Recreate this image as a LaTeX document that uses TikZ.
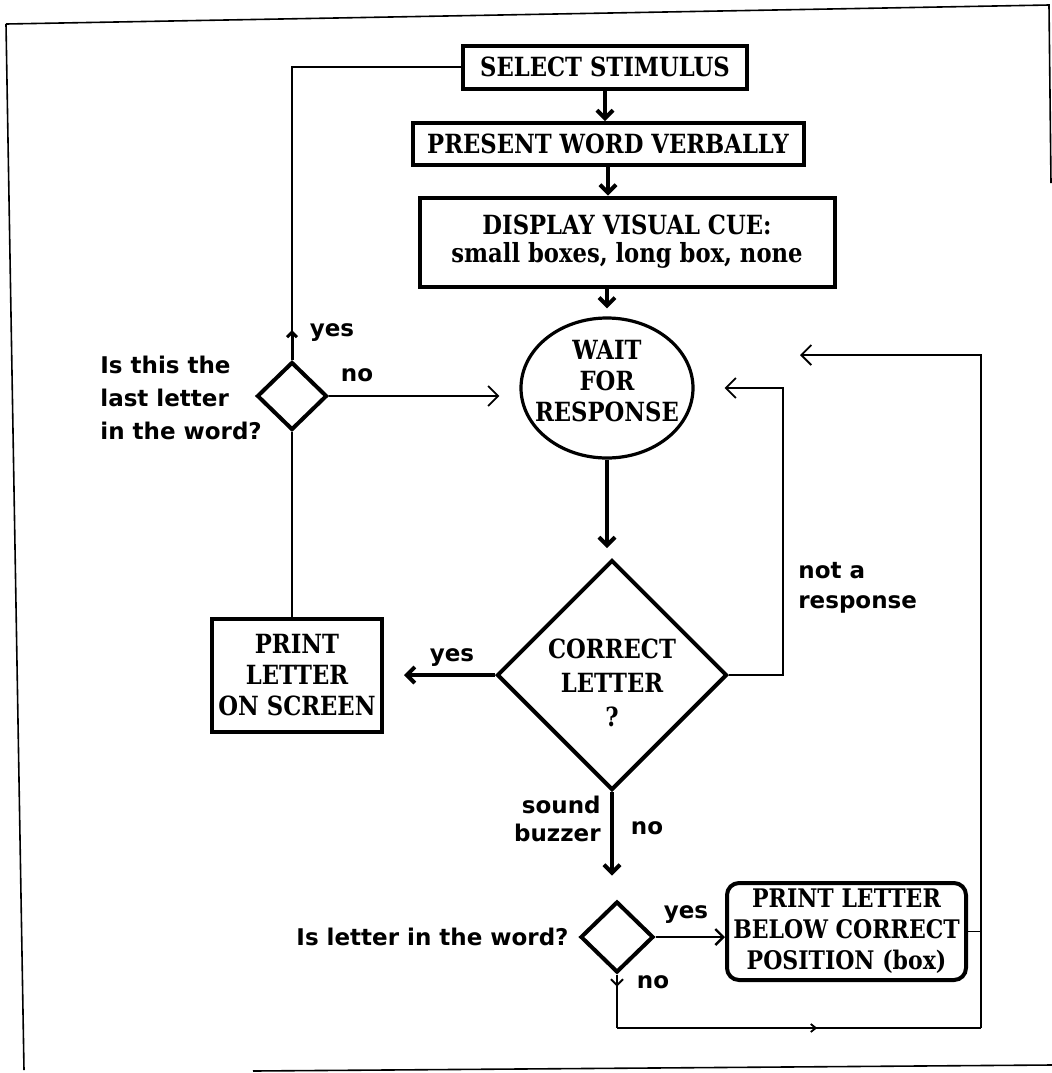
\documentclass[tikz,border=0pt]{standalone}
\usepackage{fontspec}
\setmainfont{DejaVu Serif}[FakeStretch=0.86]
\newfontfamily\lblfont{DejaVu Sans}
\usetikzlibrary{shapes.geometric,arrows.meta,decorations.markings}

\begin{document}
\begin{tikzpicture}[x=0.5pt,y=-0.5pt,
  boxtext/.style={font=\bfseries\fontsize{13.2}{15.5}\selectfont, align=center},
  stepbox/.style={draw, line width=2pt, rectangle, inner sep=0pt, boxtext},
  decision/.style={draw, line width=2pt, diamond, inner sep=0pt},
  lbl/.style={font=\lblfont\bfseries\fontsize{11.5}{16.5}\selectfont, inner sep=0pt},
  flow/.style={line width=2pt, -{Straight Barb[length=4pt,width=8pt]}},
  link/.style={line width=0.9pt},
  thinflow/.style={line width=0.9pt, -{Straight Barb[length=5pt,width=10pt]}},
  frame/.style={line width=0.8pt},
  midtick/.style={postaction={decorate}, decoration={markings,
      mark=at position 0.55 with {\arrow{Straight Barb[length=2.5pt,width=4pt]}}}}
]
\useasboundingbox (0,0) rectangle (1052,1073);

% page frame
\draw[frame] (6,24) -- (1049,5) -- (1051,183);
\draw[frame] (6,24) -- (24,1070);
\draw[frame] (253,1071) -- (1052,1065);

% process boxes
\node[stepbox, minimum width=142pt, minimum height=21.5pt] (sel) at (605,67) {SELECT STIMULUS};
\node[stepbox, minimum width=195.5pt, minimum height=21pt] (pres) at (608,144) {PRESENT WORD VERBALLY};
\node[stepbox, minimum width=207.5pt, minimum height=44.5pt,
      font=\bfseries\fontsize{13.2}{14}\selectfont] (disp) at (627,242)
      {DISPLAY VISUAL CUE:\\small boxes, long box, none};
\node[draw, ellipse, line width=1.6pt, minimum width=86pt, minimum height=70pt, inner sep=0pt] (wait) at (607,388) {};
\node[boxtext] (waittxt) at (607,381) {WAIT\\FOR\\RESPONSE};

\node[decision, minimum width=35pt, minimum height=34pt] (dec1) at (292,396) {};
\node[decision, minimum width=115pt, minimum height=115pt] (corr) at (612,675) {};
\node[boxtext, font=\bfseries\fontsize{13.2}{17}\selectfont] (corrtxt) at (612,683) {CORRECT\\LETTER\\?};
\node[stepbox, minimum width=85pt, minimum height=56.5pt] (prs) at (297,675.5) {PRINT\\LETTER\\ON SCREEN};
\node[decision, minimum width=36.5pt, minimum height=35.5pt] (dec2) at (617,937) {};
\node[stepbox, rounded corners=6pt, minimum width=119.5pt, minimum height=48.5pt,
      font=\bfseries\fontsize{12.8}{15.5}\selectfont] (prb) at (846.5,931.5)
      {PRINT LETTER\\BELOW CORRECT\\POSITION (box)};

% loop coordinates
\coordinate (nr) at (783,677);
\coordinate (ob) at (981,1028);
\coordinate (ot) at (981,355);
\coordinate (oe) at (800,355);

% main flow
\draw[flow] (sel.south) -- (sel.south |- pres.north);
\draw[flow] (pres.south) -- (pres.south |- disp.north);
\draw[flow, shorten >=4pt] (wait.north |- disp.south) -- (wait.north);
\draw[flow, shorten >=5pt] (wait.south) -- (wait.south |- corr.north);
\draw[flow, shorten >=10pt] (corr.west) -- (corr.west -| prs.east);
\draw[flow, shorten >=12pt] (corr.south) -- (corr.south |- dec2.north);

% last-letter decision
\draw[thinflow, shorten >=10pt] (dec1.east) -- (dec1.east -| wait.west);
\draw[link] (dec1.south) -- (dec1.south |- prs.north);
\draw[link] (dec1.north) |- (sel.west);
\draw[line width=1.5pt, -{Straight Barb[length=2.5pt,width=5pt]}] (dec1.north) -- ++(0,-30);

% not a response
\draw[thinflow, shorten >=15pt] (corr.east) -| (nr |- wait.east) -- (wait.east);

% letter in word decision
\draw[line width=1.2pt, -{Straight Barb[length=4pt,width=8pt]}] (dec2.east) -- (dec2.east -| prb.west);
\draw[link, -{Straight Barb[length=3pt,width=6pt]}] (dec2.south) -- ++(0,12);
\draw[link] (dec2.south) -- (dec2.south |- ob);
\draw[link, midtick] (dec2.south |- ob) -- (ob);
\draw[thinflow] (ob) -- (ot) -- (oe);
\draw[link] (prb.east) -- (prb.east -| ot);

% labels
\node[lbl] (l1) at (332,333) {yes};
\node[lbl] (l2) at (357,375) {no};
\node[lbl, align=left, anchor=west] (l3) at (100,398) {Is this the\\last letter\\in the word?};
\node[lbl] (l4) at (452,658) {yes};
\node[lbl, align=left, anchor=west, font=\lblfont\bfseries\fontsize{11.5}{15}\selectfont] (l5) at (798,588) {not a\\response};
\node[lbl, align=right, anchor=east, font=\lblfont\bfseries\fontsize{11.5}{14}\selectfont] (l6) at (601,819) {sound\\buzzer};
\node[lbl] (l7) at (647,828) {no};
\node[lbl, anchor=east] (l8) at (569,937) {Is letter in the word?};
\node[lbl] (l9) at (686,915) {yes};
\node[lbl] (l10) at (653,982) {no};
\end{tikzpicture}
\end{document}
